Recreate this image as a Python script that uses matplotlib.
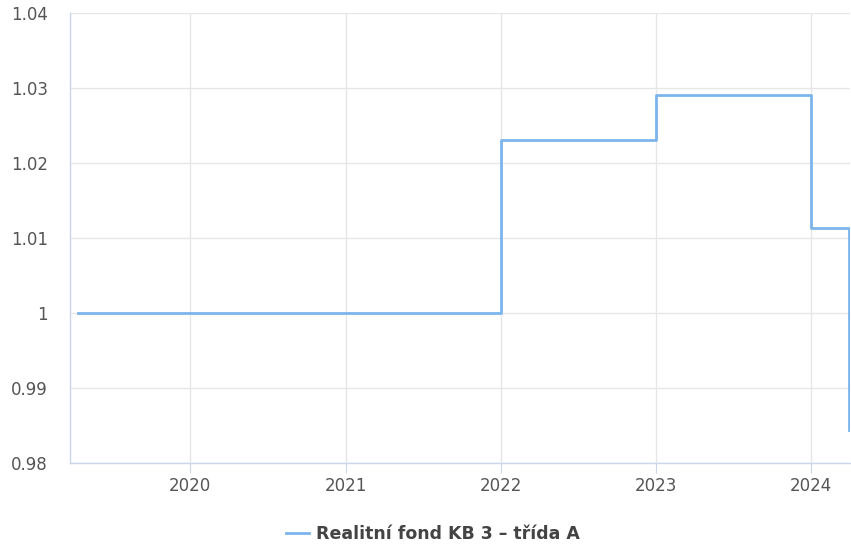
import pandas as pd
import matplotlib.pyplot as plt
import matplotlib.dates as mdates

plt.rcParams['font.family'] = ['DejaVu Sans']

# NAV per share, step changes at year starts
dates = pd.to_datetime(['2019-04-11', '2022-01-01', '2023-01-01', '2024-01-01', '2024-03-29'])
values = [1.000, 1.0231, 1.0291, 1.0113, 0.9844]
series_name = 'Realitní fond KB 3 – třída A'

yticks = [0.98, 0.99, 1.00, 1.01, 1.02, 1.03, 1.04]
ytick_labels = ['0.98', '0.99', '1', '1.01', '1.02', '1.03', '1.04']

fig = plt.figure(figsize=(8.51, 5.48), dpi=100)
ax = fig.add_axes([70 / 851, 85 / 548, 780 / 851, 450 / 548])

ax.plot(dates, values, drawstyle='steps-post', color='#7cb5ec', lw=2, label=series_name)

ax.set_ylim(0.98, 1.04)
ax.set_yticks(yticks)
ax.set_yticklabels(ytick_labels)
ax.set_xlim(pd.Timestamp('2019-03-24'), pd.Timestamp('2024-04-01'))
ax.xaxis.set_major_locator(mdates.YearLocator())
ax.xaxis.set_major_formatter(mdates.DateFormatter('%Y'))

ax.grid(True, color='#e6e6e6', lw=1)
ax.set_axisbelow(True)
for s in ['top', 'right']:
    ax.spines[s].set_visible(False)
for s in ['left', 'bottom']:
    ax.spines[s].set_color('#ccd6eb')
    ax.spines[s].set_linewidth(1)
ax.tick_params(axis='y', length=0, pad=16, labelsize=12, labelcolor='#555555')
ax.tick_params(axis='x', length=7, color='#ccd6eb', pad=3, labelsize=12, labelcolor='#555555')

leg = fig.legend(loc='lower center', bbox_to_anchor=(0.509, -0.019), frameon=False,
                 prop={'weight': 'bold', 'size': 12.5}, handlelength=1.3, handletextpad=0.45)
for t in leg.get_texts():
    t.set_color('#444444')

fig.savefig('out.png', dpi=100)
